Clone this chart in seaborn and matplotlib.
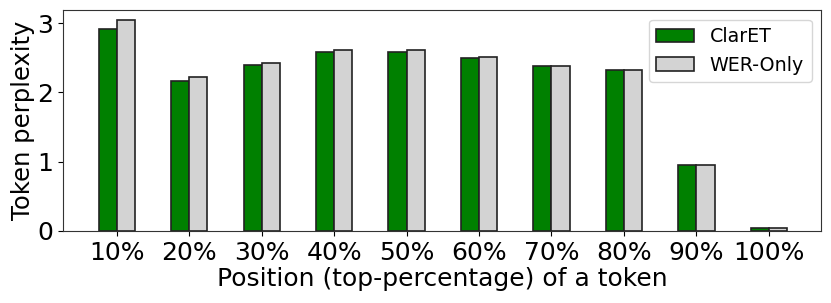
import pandas as pd
import matplotlib
matplotlib.use("Agg")
import matplotlib.pyplot as plt
import seaborn as sns

# values
positions = ["10%", "20%", "30%", "40%", "50%", "60%", "70%", "80%", "90%", "100%"]
claret = [2.91, 2.17, 2.40, 2.58, 2.58, 2.49, 2.38, 2.32, 0.95, 0.04]
wer_only = [3.04, 2.22, 2.43, 2.61, 2.61, 2.51, 2.38, 2.32, 0.95, 0.04]
methods = ["ClarET", "WER-Only"]

df = pd.DataFrame({
    "position": positions * 2,
    "ppl": claret + wer_only,
    "method": [methods[0]] * len(positions) + [methods[1]] * len(positions),
})

fig, ax = plt.subplots(figsize=(8.31, 3.03), dpi=100)
sns.barplot(data=df, x="position", y="ppl", hue="method", order=positions,
            hue_order=methods, palette=["green", "lightgray"], width=0.5,
            edgecolor="#222222", linewidth=1.2, saturation=1, errorbar=None, ax=ax)

ax.set_xlim(-0.74, 9.72)
ax.set_ylim(0, 3.19)
ax.set_yticks([0, 1, 2, 3])
ax.set_xlabel("Position (top-percentage) of a token", fontsize=18, labelpad=2)
ax.set_ylabel("Token perplexity", fontsize=17.5, labelpad=2)
ax.tick_params(axis="both", labelsize=18)
for s in ax.spines.values():
    s.set_color("#333333")
ax.legend(loc="upper right", fontsize=13.7, title=None)

plt.subplots_adjust(left=0.076, right=0.988, top=0.967, bottom=0.238)
plt.savefig("out.png", dpi=100)
